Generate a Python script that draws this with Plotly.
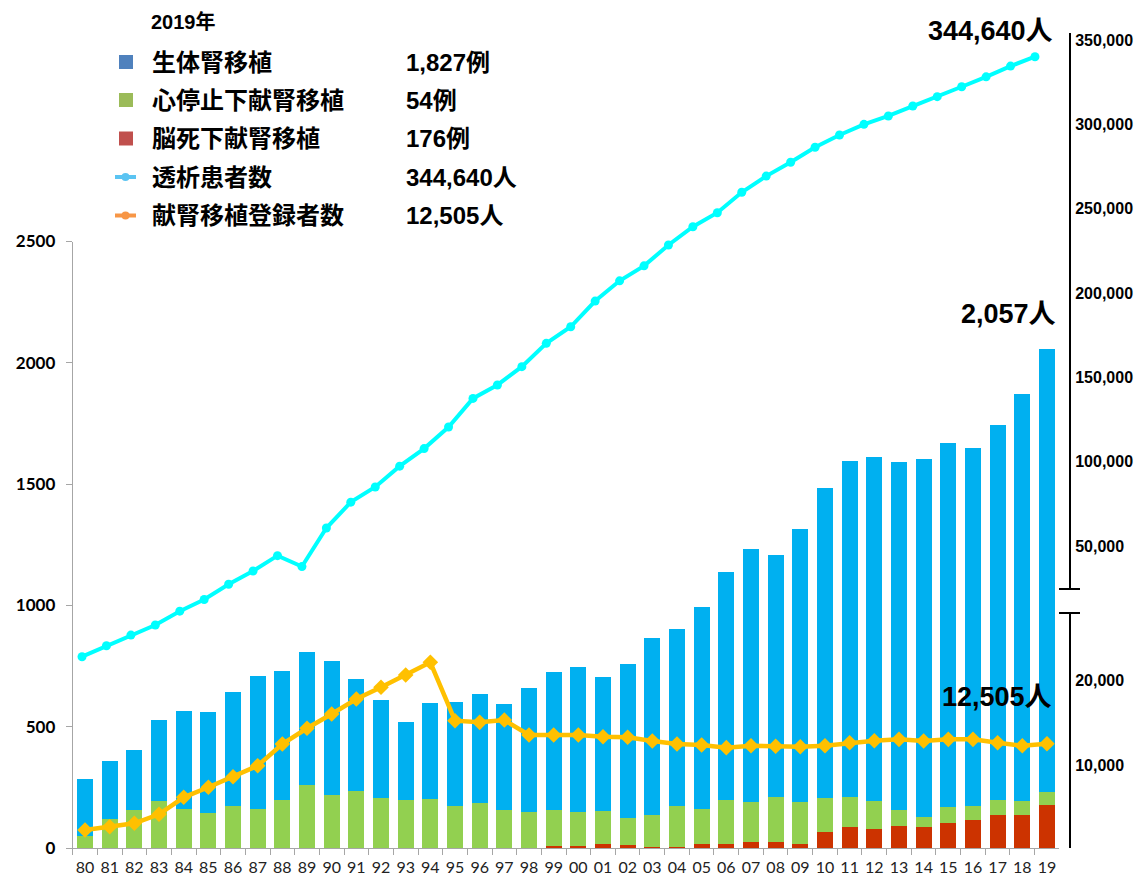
import plotly.graph_objects as go

# page body has an 8px margin, so the figure is drawn 8px in from the top-left
OFF = 8
PAGE_W, PAGE_H = 1145, 878
W, H = PAGE_W - OFF, PAGE_H - OFF

years = ["80", "81", "82", "83", "84", "85", "86", "87", "88", "89",
         "90", "91", "92", "93", "94", "95", "96", "97", "98", "99",
         "00", "01", "02", "03", "04", "05", "06", "07", "08", "09",
         "10", "11", "12", "13", "14", "15", "16", "17", "18", "19"]

# 生体腎移植 / 心停止下献腎移植 / 脳死下献腎移植 (例)
living = [233, 240, 248, 337, 406, 416, 469, 548, 533, 547,
          550, 460, 402, 321, 397, 429, 450, 435, 510, 567,
          600, 551, 634, 727, 729, 831, 939, 1043, 995, 1123,
          1275, 1386, 1418, 1438, 1479, 1502, 1475, 1548, 1680, 1827]
cardiac = [51, 120, 155, 192, 159, 145, 175, 162, 197, 260,
           220, 236, 208, 197, 200, 173, 186, 158, 148, 149,
           139, 136, 113, 132, 168, 146, 181, 162, 185, 175,
           143, 126, 117, 66, 41, 64, 59, 63, 58, 54]
brain = [0, 0, 0, 0, 0, 0, 0, 0, 0, 0,
         0, 0, 0, 0, 0, 0, 0, 0, 0, 9,
         9, 16, 12, 5, 5, 16, 16, 26, 26, 15,
         64, 85, 78, 89, 85, 105, 116, 134, 134, 176]

# 透析患者数 (人)
dialysis = [36400, 42000, 47500, 52700, 59800, 65800, 73600, 80400, 88300, 82700,
            102500, 115800, 123600, 134300, 143300, 154400, 169100, 176000, 185400, 197400,
            205900, 219100, 229500, 237200, 247900, 257300, 264500, 275000, 283300, 290400,
            298100, 304400, 309900, 314200, 319300, 324100, 329200, 334300, 339800, 344640]

# 献腎移植登録者数 (人)
waiting = [2350, 2740, 3140, 4200, 6200, 7380, 8620, 9920, 12470, 14320,
           16000, 17760, 19140, 20590, 22080, 15210, 15020, 15290, 13530, 13530,
           13530, 13330, 13260, 12820, 12470, 12350, 12040, 12270, 12200, 12150,
           12270, 12620, 12860, 13020, 12820, 13020, 13020, 12620, 12270, 12505]

right_lower_ticks = [10000, 20000]
right_upper_ticks = [50000, 100000, 150000, 200000, 250000, 300000, 350000]
left_ticks = [0, 500, 1000, 1500, 2000, 2500]

legend_rows = [
    ("生体腎移植", "1,827例", "#4F81BD", "box"),
    ("心停止下献腎移植", "54例", "#9BBB59", "box"),
    ("脳死下献腎移植", "176例", "#C0504D", "box"),
    ("透析患者数", "344,640人", "#5BC4F2", "line"),
    ("献腎移植登録者数", "12,505人", "#F79646", "line"),
]

JP = "Liberation Sans, Arial, Noto Sans CJK JP, sans-serif"


def fx(px):
    return (px - OFF) / W


def fy(py):
    return (PAGE_H - py) / H


# pixel -> value mappings for the right hand scales
def lower_val(py):
    return (850 - py) * 10000 / 85


def upper_val(py):
    return 50000 + (546 - py) * 300000 / 506


def dial_val(py):
    return 344640 + (56.7 - py) * (344640 - 36400) / (656.7 - 56.7)


fig = go.Figure()

fig.add_trace(go.Bar(x=years, y=brain, marker=dict(color="#CC3300", line_width=0),
                     name="脳死下献腎移植"))
fig.add_trace(go.Bar(x=years, y=cardiac, marker=dict(color="#92D050", line_width=0),
                     name="心停止下献腎移植"))
fig.add_trace(go.Bar(x=years, y=living, marker=dict(color="#00B0F0", line_width=0),
                     name="生体腎移植"))

fig.add_trace(go.Scatter(x=years, y=waiting, yaxis="y2", mode="lines+markers",
                         line=dict(color="#FFC000", width=4.5),
                         marker=dict(symbol="diamond", size=12, color="#FFC000"),
                         name="献腎移植登録者数"))

# keeps the upper right scale drawn
fig.add_trace(go.Scatter(x=[], y=[], yaxis="y3", showlegend=False, hoverinfo="skip"))

fig.add_trace(go.Scatter(x=years, y=dialysis, xaxis="x2", yaxis="y4", mode="lines+markers",
                         line=dict(color="#00FFFF", width=4),
                         marker=dict(symbol="circle", size=9, color="#00FFFF"),
                         name="透析患者数"))

fig.update_layout(
    template="none",
    width=W, height=H, autosize=False,
    margin=dict(l=0, r=0, t=0, b=0, pad=0),
    paper_bgcolor="white", plot_bgcolor="rgba(0,0,0,0)",
    barmode="stack", bargap=0.35,
    showlegend=False,
    xaxis=dict(domain=[fx(72.7), fx(1059.3)], type="category", anchor="y",
               range=[-0.5, 39.5], showline=True, linecolor="#A6A6A6", linewidth=1,
               ticks="outside", tickson="boundaries", ticklen=6, tickcolor="#A6A6A6",
               tickangle=0, ticklabelstandoff=5,
               tickfont=dict(family="Lato, sans-serif", size=16, color="#222"),
               showgrid=False, zeroline=False, automargin=False),
    xaxis2=dict(domain=[fx(69.8), fx(1047.2)], type="category", anchor="y4",
                range=[-0.5, 39.5], visible=False),
    yaxis=dict(domain=[fy(848), fy(241.5)], range=[0, 2500], anchor="x",
               tickvals=left_ticks, showline=True, linecolor="#A6A6A6", linewidth=1,
               ticks="outside", ticklen=6, tickcolor="#A6A6A6", ticklabelstandoff=7,
               tickfont=dict(family="Lato, sans-serif", size=17, color="black", weight="bold"),
               showgrid=False, zeroline=False, automargin=False),
    yaxis2=dict(domain=[fy(848), fy(613)], range=[lower_val(848), lower_val(613)],
                anchor="free", position=fx(1070), side="right",
                tickvals=right_lower_ticks, ticktext=[f"{v:,}" for v in right_lower_ticks],
                showline=True, linecolor="black", linewidth=2, ticks="",
                ticklabelstandoff=1,
                tickfont=dict(family=JP, size=16, color="black", weight="bold"),
                showgrid=False, zeroline=False, automargin=False),
    yaxis3=dict(domain=[fy(589), fy(33)], range=[upper_val(589), upper_val(33)],
                anchor="free", position=fx(1070), side="right",
                tickvals=right_upper_ticks, ticktext=[f"{v:,}" for v in right_upper_ticks],
                showline=True, linecolor="black", linewidth=2, ticks="",
                ticklabelstandoff=1,
                tickfont=dict(family=JP, size=16, color="black", weight="bold"),
                showgrid=False, zeroline=False, automargin=False),
    yaxis4=dict(domain=[fy(848), fy(20)], range=[dial_val(848), dial_val(20)],
                anchor="x2", visible=False),
)

shapes = [
    # axis break marks
    dict(type="line", xref="paper", yref="paper", x0=fx(1059), x1=fx(1080),
         y0=fy(589), y1=fy(589), line=dict(color="black", width=2)),
    dict(type="line", xref="paper", yref="paper", x0=fx(1059), x1=fx(1080),
         y0=fy(613), y1=fy(613), line=dict(color="black", width=2)),
]

annotations = [
    dict(text="2019年", x=fx(149), y=fy(22), xanchor="left", yanchor="middle",
         font=dict(family=JP, size=20, color="black", weight="bold")),
]

row_y = [62, 100, 138.5, 177, 215.5]
for (label, value, color, kind), ry in zip(legend_rows, row_y):
    if kind == "box":
        shapes.append(dict(type="rect", xref="paper", yref="paper",
                           x0=fx(119), x1=fx(133), y0=fy(ry + 7), y1=fy(ry - 7),
                           fillcolor=color, line_width=0))
    else:
        shapes.append(dict(type="line", xref="paper", yref="paper",
                           x0=fx(115), x1=fx(136), y0=fy(ry), y1=fy(ry),
                           line=dict(color=color, width=4)))
        shapes.append(dict(type="circle", xref="paper", yref="paper",
                           x0=fx(121.5), x1=fx(129.5), y0=fy(ry + 4), y1=fy(ry - 4),
                           fillcolor=color, line_width=0))
    annotations.append(dict(text=label, x=fx(150), y=fy(ry), xanchor="left", yanchor="middle",
                            font=dict(family=JP, size=24, color="black", weight="bold")))
    annotations.append(dict(text=value, x=fx(404), y=fy(ry), xanchor="left", yanchor="middle",
                            font=dict(family=JP, size=24, color="black", weight="bold")))

for text, cx, cy in [("344,640人", 990, 31), ("2,057人", 1008, 314), ("12,505人", 997, 697)]:
    annotations.append(dict(text=text, x=fx(cx), y=fy(cy), xanchor="center", yanchor="middle",
                            font=dict(family=JP, size=27, color="black", weight="bold")))

for a in annotations:
    a.update(xref="paper", yref="paper", showarrow=False)

fig.update_layout(shapes=shapes, annotations=annotations)

fig.write_html("out.html")
